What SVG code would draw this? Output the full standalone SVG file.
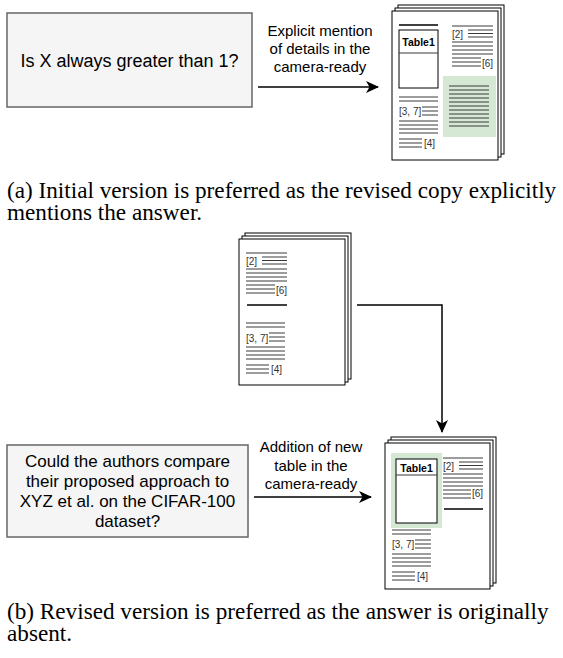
<svg xmlns="http://www.w3.org/2000/svg" width="563" height="658" viewBox="0 0 563 658">
<style>
.box{fill:#f5f5f5;stroke:#666;stroke-width:1.5}
.page{fill:#fff;stroke:#000;stroke-width:1}
.ln{stroke:#3a3a3a;stroke-width:1;fill:none}
.thk{stroke:#000;stroke-width:1.6;fill:none}
.tblr{fill:#fff;stroke:#000;stroke-width:1}
.green{fill:#d5e8d4}
.ref{font-family:"Liberation Sans",Arial,sans-serif;font-size:10px;fill:#333}
.tbl{font-family:"Liberation Sans",Arial,sans-serif;font-size:10.5px;font-weight:bold;fill:#000;text-anchor:middle}
.q{font-family:"Liberation Sans",Arial,sans-serif;fill:#000;text-anchor:middle}
.lbl{font-family:"Liberation Sans",Arial,sans-serif;font-size:15px;fill:#000;text-anchor:middle}
.cap{font-family:"Liberation Serif","Times New Roman",serif;font-size:23.2px;fill:#000}
.conn{stroke:#000;stroke-width:1.5;fill:none}
</style>
<defs>
<marker id="arr" markerWidth="14" markerHeight="12" refX="12" refY="6" orient="auto" markerUnits="userSpaceOnUse">
<path d="M0,0 L13,6 L0,12 L3.5,6 Z" fill="#000"/>
</marker>
</defs>

<g id="question-a">
<rect class="box" x="7" y="13" width="245" height="94"/>
<text class="q" font-size="18" x="129.5" y="66.5">Is X always greater than 1?</text>
</g>

<g id="page-a">
<rect class="page" x="398" y="5" width="106" height="149"/>
<rect class="page" x="395" y="8" width="106" height="149"/>
<rect class="page" x="392" y="11" width="106" height="149"/>
<path class="thk" d="M399,25H438"/>
<rect class="tblr" x="399" y="30" width="39" height="58"/>
<path class="ln" d="M399,53H438"/>
<text class="tbl" x="418.5" y="45.5">Table1</text>
<g transform="translate(452,26)">
<path class="ln" d="M0,0H41 M16,4H41 M16,7.5H41 M16,11H41 M0,16H41 M0,20H41 M0,24H41 M0,28H41 M0,32H29 M0,36H29 M0,40H29"/>
<text class="ref" x="0" y="11.5">[2]</text>
<text class="ref" x="30" y="41">[6]</text>
</g>
<rect class="green" x="443" y="76" width="53" height="61"/>
<path class="ln" d="M449,86H489 M449,90H489 M449,94H489 M449,98H489 M449,102H489 M449,106H489 M449,110H489 M449,114H489 M449,118H489 M449,122H489 M449,126H489"/>
<g transform="translate(399,97)">
<path class="ln" d="M0,0H39 M0,4H39 M23,10H39 M23,14H39 M23,18H39 M0,24H39 M0,28H39 M0,32H39 M0,36H39 M0,42H23 M0,46H23 M0,50H23"/>
<text class="ref" x="0" y="18">[3, 7]</text>
<text class="ref" x="25" y="50">[4]</text>
</g>
</g>

<g id="page-b-initial">
<rect class="page" x="245" y="233" width="106" height="146"/>
<rect class="page" x="242" y="236" width="106" height="146"/>
<rect class="page" x="239" y="239" width="106" height="146"/>
<g transform="translate(246,253)">
<path class="ln" d="M0,0H41 M16,4H41 M16,7.5H41 M16,11H41 M0,16H41 M0,20H41 M0,24H41 M0,28H41 M0,32H29 M0,36H29 M0,40H29"/>
<text class="ref" x="0" y="11.5">[2]</text>
<text class="ref" x="30" y="41">[6]</text>
</g>
<path class="thk" d="M247,305H287"/>
<g transform="translate(246,323)">
<path class="ln" d="M0,0H39 M0,4H39 M23,10H39 M23,14H39 M23,18H39 M0,24H39 M0,28H39 M0,32H39 M0,36H39 M0,42H23 M0,46H23 M0,50H23"/>
<text class="ref" x="0" y="19">[3, 7]</text>
<text class="ref" x="25" y="50">[4]</text>
</g>
</g>

<g id="question-b">
<rect class="box" x="7" y="445" width="241" height="92"/>
<text class="q" font-size="17" x="127.5" y="467">Could the authors compare</text>
<text class="q" font-size="17" x="127.5" y="487">their proposed approach to</text>
<text class="q" font-size="17" x="127.5" y="507">XYZ et al. on the CIFAR-100</text>
<text class="q" font-size="17" x="127.5" y="527">dataset?</text>
</g>

<g id="page-b-revised">
<rect class="page" x="391" y="437" width="105" height="146"/>
<rect class="page" x="388" y="440" width="105" height="146"/>
<rect class="page" x="385" y="443" width="105" height="146"/>
<rect class="green" x="391" y="453" width="51" height="75"/>
<rect class="tblr" x="396" y="459" width="41" height="64"/>
<path class="ln" d="M396,475H437"/>
<text class="tbl" x="416.5" y="472">Table1</text>
<g transform="translate(443,458)">
<path class="ln" d="M0,0H40 M16,4H40 M16,7.5H40 M16,11H40 M0,16H40 M0,20H40 M0,24H40 M0,28H40 M0,32H28 M0,36H28 M0,40H28"/>
<text class="ref" x="0" y="11.5">[2]</text>
<text class="ref" x="29" y="39">[6]</text>
</g>
<path class="thk" d="M444,509H483"/>
<g transform="translate(392,530)">
<path class="ln" d="M0,0H39 M0,4H39 M23,10H39 M23,14H39 M23,18H39 M0,24H39 M0,28H39 M0,32H39 M0,36H39 M0,42H23 M0,46H23 M0,50H23"/>
<text class="ref" x="0" y="18">[3, 7]</text>
<text class="ref" x="25" y="50">[4]</text>
</g>
</g>

<g id="connectors">
<path class="conn" d="M258,87H378" marker-end="url(#arr)"/>
<text class="lbl" x="320" y="36">Explicit mention</text>
<text class="lbl" x="320" y="54">of details in the</text>
<text class="lbl" x="320" y="72">camera-ready</text>
<path class="conn" d="M357,305H442V432" marker-end="url(#arr)"/>
<path class="conn" d="M254,497H371" marker-end="url(#arr)"/>
<text class="lbl" x="311" y="452">Addition of new</text>
<text class="lbl" x="311" y="471">table in the</text>
<text class="lbl" x="311" y="489">camera-ready</text>
</g>

<text class="cap" x="7" y="198">(a) Initial version is preferred as the revised copy explicitly</text>
<text class="cap" x="7" y="220">mentions the answer.</text>
<text class="cap" x="7" y="619">(b) Revised version is preferred as the answer is originally</text>
<text class="cap" x="7" y="641">absent.</text>
</svg>
